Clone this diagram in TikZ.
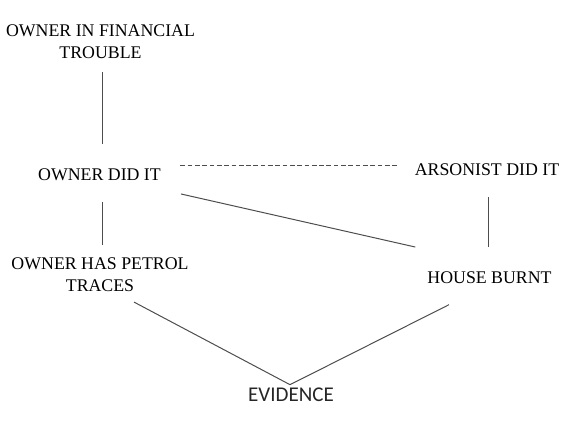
\documentclass[tikz,border=0pt]{standalone}
\usepackage{fontspec}
\setmainfont{Liberation Serif}
\newfontfamily\evidfont{Carlito}
\usepackage{tikz}
\usetikzlibrary{calc}
\definecolor{linkcolor}{HTML}{4D4D4D}

\begin{document}
\begin{tikzpicture}[
    x=1pt, y=-1pt,
    claim/.style={inner sep=0pt, anchor=base, font=\fontsize{17.8}{21.5}\selectfont, align=center},
    evid/.style={inner sep=0pt, anchor=base, font=\evidfont\fontsize{21}{24}\selectfont, text=black!85},
    link/.style={draw=linkcolor, line width=1pt},
    rival/.style={draw=linkcolor, line width=1pt, dash pattern=on 4.7pt off 2.6pt}
]
\useasboundingbox (0,0) rectangle (565,424);
\node[claim] (finance) at (100.5,58.3) {OWNER IN FINANCIAL\\TROUBLE};
\node[claim] (owner) at (99.5,180) {OWNER DID IT};
\node[claim] (arsonist) at (487,175) {ARSONIST DID IT};
\node[claim] (petrol) at (100,291) {OWNER HAS PETROL\\TRACES};
\node[claim] (house) at (489.5,283) {HOUSE BURNT};
\node[evid] (evidence) at (291,401.7) {EVIDENCE};
\draw[link] ($(finance.south)+(1.5,13.7)$) -- ($(owner.north)+(2.5,-24)$);
\draw[link] ($(owner.south)+(2.5,21.7)$) -- ($(petrol.north)+(2,-13)$);
\draw[rival] ($(owner.north east)+(19.5,-2.5)$) -- ($(arsonist.north west)+(-17,2.5)$);
\draw[link] ($(owner.south east)+(20,13.5)$) -- ($(house.north west)+(-12,-24)$);
\draw[link] ($(arsonist.south)+(1,22)$) -- ($(house.north)+(-1.5,-24)$);
\draw[link] ($(petrol.south)+(34,10.7)$) -- ($(evidence.north)+(-1,-3.2)$);
\draw[link] ($(house.south)+(-40.5,21.3)$) -- ($(evidence.north)+(-1,-3.2)$);
\end{tikzpicture}
\end{document}
